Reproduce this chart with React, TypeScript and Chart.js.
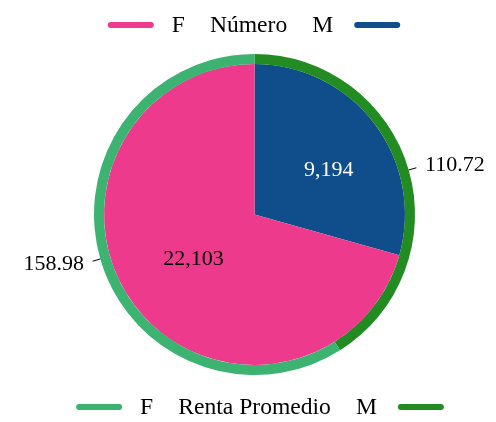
import React, { useEffect, useRef } from "react";
import { Chart, registerables } from "chart.js";

Chart.register(...registerables);

// ---- data ----
const categories = ["F", "M"];
const numeroTitle = "Número";
const numeroValues = [22103, 9194];
const rentaTitle = "Renta Promedio";
const rentaValues = [158.98, 110.72];
const numeroColors = ["#EE3A8C", "#104E8B"];
const rentaColors = ["#3CB371", "#228B22"];
const numeroTextColors = ["#000000", "#FFFFFF"];

const FONT = "22px \"Liberation Serif\", \"DejaVu Serif\", serif";
const LEGEND_FONT = "23.6px \"Liberation Serif\", \"DejaVu Serif\", serif";

// slices are drawn M first (clockwise from the top), then F
const order = [1, 0];

const fmtNumero = (v: number) => v.toLocaleString("en-US");
const fmtRenta = (v: number) => v.toFixed(2);

// label placement within the inner slices (fraction of the slice angle, fraction of radius)
const innerLabelAngleFrac = [0.505, 0.555];
const innerLabelRadiusFrac = [0.5, 0.577];

function drawLegend(
  ctx: CanvasRenderingContext2D,
  cx: number,
  y: number,
  title: string,
  colors: string[]
) {
  ctx.save();
  ctx.font = LEGEND_FONT;
  const sw = 46;
  const wF = ctx.measureText(categories[0]).width;
  const wT = ctx.measureText(title).width;
  const wM = ctx.measureText(categories[1]).width;
  const g1 = 18, g2 = 25, g3 = 25, g4 = 21;
  const total = sw + g1 + wF + g2 + wT + g3 + wM + g4 + sw;
  let x = cx - total / 2;
  const line = (x0: number, color: string) => {
    ctx.beginPath();
    ctx.strokeStyle = color;
    ctx.lineWidth = 6;
    ctx.lineCap = "round";
    ctx.moveTo(x0 + 3, y);
    ctx.lineTo(x0 + sw - 3, y);
    ctx.stroke();
  };
  ctx.fillStyle = "#000";
  ctx.textBaseline = "middle";
  ctx.textAlign = "left";
  line(x, colors[0]);
  x += sw + g1;
  ctx.fillText(categories[0], x, y + 1);
  x += wF + g2;
  ctx.fillText(title, x, y + 1);
  x += wT + g3;
  ctx.fillText(categories[1], x, y + 1);
  x += wM + g4;
  line(x, colors[1]);
  ctx.restore();
}

const labelPlugin = {
  id: "customLabels",
  afterDatasetsDraw(chart: any) {
    const ctx: CanvasRenderingContext2D = chart.ctx;
    ctx.save();
    ctx.font = FONT;
    ctx.textBaseline = "middle";
    const innerMeta = chart.getDatasetMeta(1);
    innerMeta.data.forEach((arc: any, i: number) => {
      const cat = order[i];
      const a = arc.startAngle + innerLabelAngleFrac[cat] * (arc.endAngle - arc.startAngle);
      const r = innerLabelRadiusFrac[cat] * arc.outerRadius;
      ctx.fillStyle = numeroTextColors[cat];
      ctx.textAlign = "center";
      ctx.fillText(fmtNumero(numeroValues[cat]), arc.x + r * Math.cos(a), arc.y + r * Math.sin(a) + 1);
    });
    const outerMeta = chart.getDatasetMeta(0);
    outerMeta.data.forEach((arc: any, i: number) => {
      const cat = order[i];
      const a = (arc.startAngle + arc.endAngle) / 2;
      const c = Math.cos(a), s = Math.sin(a);
      const r0 = arc.outerRadius;
      ctx.beginPath();
      ctx.strokeStyle = "#000";
      ctx.lineWidth = 1;
      ctx.moveTo(arc.x + r0 * c, arc.y + r0 * s);
      ctx.lineTo(arc.x + (r0 + 8) * c, arc.y + (r0 + 8) * s);
      ctx.stroke();
      const rt = r0 + 17;
      ctx.fillStyle = "#000";
      ctx.textAlign = c >= 0 ? "left" : "right";
      ctx.fillText(fmtRenta(rentaValues[cat]), arc.x + rt * c, arc.y + rt * s);
    });
    ctx.restore();
  },
  afterDraw(chart: any) {
    const ctx: CanvasRenderingContext2D = chart.ctx;
    drawLegend(ctx, 254, 25, numeroTitle, numeroColors);
    drawLegend(ctx, 260, 407, rentaTitle, rentaColors);
  },
};

export default function App() {
  const ref = useRef<HTMLCanvasElement>(null);
  useEffect(() => {
    if (!ref.current) return;
    const chart = new Chart(ref.current, {
      type: "doughnut",
      data: {
        labels: order.map((i) => categories[i]),
        datasets: [
          {
            label: rentaTitle,
            data: order.map((i) => rentaValues[i]),
            backgroundColor: order.map((i) => rentaColors[i]),
            borderWidth: 0,
            weight: 1,
          },
          {
            label: numeroTitle,
            data: order.map((i) => numeroValues[i]),
            backgroundColor: order.map((i) => numeroColors[i]),
            borderWidth: 0,
            weight: 15,
          },
        ],
      },
      options: {
        responsive: false,
        animation: false,
        events: [],
        cutout: 0,
        hoverOffset: 0,
        layout: { padding: { left: 94, right: 81, top: 54, bottom: 47 } },
        plugins: { legend: { display: false }, tooltip: { enabled: false } },
      } as any,
      plugins: [labelPlugin],
    });
    return () => chart.destroy();
  }, []);
  return (
    <div style={{ position: "absolute", left: 0, top: 0, width: 496, height: 422, background: "#fff" }}>
      <canvas ref={ref} width={496} height={422} style={{ display: "block" }} />
    </div>
  );
}
